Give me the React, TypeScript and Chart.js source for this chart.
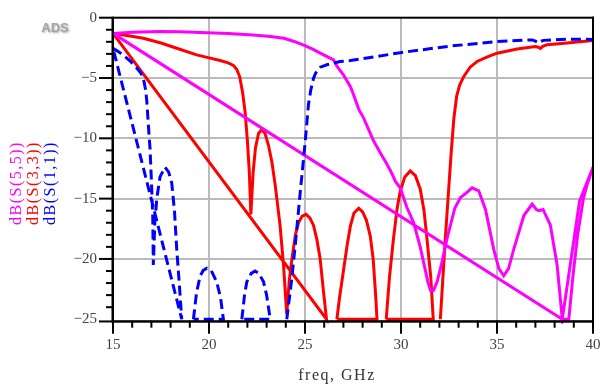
import React, { useEffect, useRef } from "react";
import { Chart, registerables } from "chart.js";
Chart.register(...registerables);

// dB(S(5,5)) trace (magenta) — null y = break
const s55X = [15, 16, 17.4, 18.5, 19.9, 21, 22.3, 23.2, 23.9, 24.4, 24.9, 25.4, 25.97, 26.49, 26.67, 27.0, 27.36, 27.53, 27.8, 28.05, 28.57, 28.92, 29.27, 29.55, 29.7, 29.96, 30.3, 30.66, 31.0, 31.18, 31.4, 31.53, 31.7, 31.88, 32.1, 32.4, 32.8, 33.1, 33.35, 33.7, 34.05, 34.4, 34.83, 35.1, 35.35, 35.6, 35.87, 36.4, 36.83, 37.05, 37.18, 37.4, 37.78, 38.13, 38.4, 39.3, 40, 39.7, 39.5, 39.2, 38.95, 38.74, 38.4, 15];
const s55Y = [-1.3, -1.2, -1.15, -1.17, -1.24, -1.3, -1.43, -1.55, -1.7, -1.95, -2.25, -2.6, -3.08, -3.5, -4.04, -4.73, -5.7, -6.38, -7.6, -8.3, -10.2, -11.2, -12.15, -13.0, -13.55, -14.1, -15.7, -17.0, -19.0, -20.3, -21.9, -22.6, -22.6, -21.9, -20.5, -18.3, -15.8, -14.9, -14.6, -14.1, -14.35, -15.9, -19.2, -20.8, -21.4, -20.8, -19.2, -16.4, -15.45, -15.9, -16.0, -15.9, -17.2, -20.5, -25, -15.2, -12.4, -13.8, -15.0, -18.0, -21.5, -25, -25, -1.3];

// dB(S(3,3)) trace (red)
const s33X = [15, 15.8, 16.58, 17.5, 18.32, 19.36, 20.06, 20.58, 21.0, 21.27, 21.45, 21.6, 21.75, 21.88, 22.0, 22.1, 22.18, 22.3, 22.42, 22.58, 22.75, 22.92, 23.1, 23.28, 23.45, 23.7, 23.88, 24.05, 24.18, 24.32, 24.5, 24.66, 24.85, 25.06, 25.25, 25.44, 25.62, 25.79, 25.95, 26.12, 15,
  26.66, 26.66, 26.8, 27.0, 27.2, 27.36, 27.55, 27.8, 28.0, 28.2, 28.4, 28.55, 28.68, 28.75, 26.66,
  29.23, 29.23, 29.4, 29.61, 29.8, 29.96, 30.2, 30.48, 30.75, 31.0, 31.2, 31.35, 31.55, 31.68, 29.23,
  32.05, 32.05, 32.3, 32.6, 32.75, 32.9, 33.05, 33.27, 33.6, 33.96, 34.5, 35.0, 36.05, 37.0, 37.15, 37.26, 37.4, 37.61, 38.65, 40, 32.05];
const s33Y = [-1.3, -1.5, -1.7, -2.1, -2.53, -3.08, -3.35, -3.55, -3.75, -3.95, -4.3, -4.9, -6.2, -7.8, -10.2, -12.8, -16.3, -12.8, -10.8, -9.6, -9.27, -9.6, -10.6, -12.0, -13.9, -17.2, -20.5, -24.6, -21.8, -20.0, -18.0, -17.0, -16.45, -16.3, -16.6, -17.2, -18.4, -20.0, -22.5, -25, -1.3,
  null, -25, -23.2, -21.0, -18.8, -17.3, -16.2, -15.8, -16.1, -16.8, -18.1, -20.0, -23.0, -25, -25,
  null, -25, -21.5, -18.3, -15.8, -14.4, -13.2, -12.7, -13.1, -14.2, -16.0, -18.3, -21.5, -25, -25,
  null, -25, -18.5, -11.5, -8.4, -6.5, -5.6, -4.87, -4.1, -3.63, -3.25, -2.94, -2.6, -2.39, -2.45, -2.55, -2.35, -2.25, -2.1, -1.9, -25];

// dB(S(1,1)) trace (blue, dashed)
const s11X = [15, 15.27, 15.54, 15.9, 16.24, 16.45, 16.58, 16.7, 16.76, 16.84, 16.93, 17.0, 17.07, 17.1, 17.18, 17.28, 17.45, 17.71, 17.9, 18.06, 18.2, 18.32, 18.45, 18.58, 15,
  19.19, 19.19, 19.35, 19.54, 19.7, 19.89, 20.1, 20.4, 20.6, 20.75, 19.19,
  21.71, 21.71, 21.85, 21.97, 22.2, 22.4, 22.6, 22.84, 23.0, 23.19, 21.71,
  24.05, 24.05, 24.3, 24.49, 24.75, 25.01, 25.18, 25.3, 25.45, 25.55, 25.8, 26.14, 26.83, 27.36, 28.22, 29.96, 31.7, 32.57, 35.0, 36.83, 37.0, 37.18, 37.3, 37.44, 38.65, 40, 24.05];
const s11Y = [-2.53, -2.8, -3.1, -3.6, -4.17, -4.6, -5.0, -6.0, -6.9, -8.85, -10.9, -13.5, -16.4, -20.5, -17.0, -15.0, -13.2, -12.4, -12.8, -13.7, -16.0, -19.2, -22.0, -25, -2.53,
  null, -25, -22.8, -21.4, -20.95, -20.76, -20.9, -21.9, -23.2, -25, -25,
  null, -25, -23.0, -21.9, -21.2, -21.0, -21.2, -21.9, -23.0, -25, -25,
  null, -25, -21.8, -18.9, -14.5, -10.3, -7.2, -6.0, -5.0, -4.6, -4.1, -3.9, -3.63, -3.55, -3.35, -2.9, -2.53, -2.35, -1.98, -1.84, -1.95, -2.1, -1.95, -1.88, -1.78, -1.8, -25];

const xTicks = [15, 20, 25, 30, 35, 40];
const yTicks = [0, -5, -10, -15, -20, -25];
const yTitles = ["dB(S(5,5))", "dB(S(3,3))", "dB(S(1,1))"];
const yTitleColors = ["#FF00FF", "#FF0000", "#0000FF"];
const xTitle = "freq, GHz";
const logoText = "ADS";

function pts(xs: number[], ys: (number | null)[]) {
  return xs.map((x, i) => ({ x, y: ys[i] }));
}

const decor = {
  id: "decor",
  afterDraw(chart: any) {
    const ctx: CanvasRenderingContext2D = chart.ctx;
    const a = chart.chartArea;
    const xs = chart.scales.x;
    const ys = chart.scales.y;
    ctx.save();
    ctx.setLineDash([]);
    ctx.globalAlpha = 1;
    ctx.fillStyle = "#000";
    const axisY = a.bottom + 0.75;
    // y ticks (outside, left)
    for (let v = 0; v >= -25; v--) {
      const y = v === -25 ? axisY : ys.getPixelForValue(v);
      const len = v % 5 === 0 ? 14 : 7;
      ctx.fillRect(a.left - len, y - 1, len, 2);
    }
    // x ticks (outside, below)
    for (let v = 15; v <= 40; v++) {
      const x = xs.getPixelForValue(v);
      const len = v % 5 === 0 ? 13 : 7;
      ctx.fillRect(x - 1, a.bottom, 2, len);
    }
    // frame
    ctx.fillRect(a.left, a.top - 1, a.right - a.left + 1, 2); // top
    ctx.fillRect(a.right - 1, a.top - 1, 2, a.bottom - a.top + 2); // right
    ctx.fillRect(a.left - 1.5, a.top - 1, 2.5, a.bottom - a.top + 3); // left
    ctx.fillRect(a.left - 1.5, a.bottom - 0.5, a.right - a.left + 2.5, 2.5); // bottom
    // y titles
    ctx.font = "16px 'Liberation Serif', serif";
    ctx.textAlign = "center";
    ctx.textBaseline = "middle";
    const tx = [17, 34, 51];
    yTitles.forEach((t, i) => {
      ctx.save();
      ctx.translate(tx[i], 183);
      ctx.rotate(-Math.PI / 2);
      ctx.fillStyle = yTitleColors[i];
      (ctx as any).letterSpacing = "1.5px";
      ctx.fillText(t, 0, 0);
      ctx.restore();
    });
    // x title
    ctx.fillStyle = "#333";
    (ctx as any).letterSpacing = "1.5px";
    ctx.fillText(xTitle, 337, 376);
    (ctx as any).letterSpacing = "0px";
    // logo
    ctx.font = "bold 13px 'Liberation Sans', sans-serif";
    ctx.fillStyle = "#A5A5A5";
    ctx.shadowColor = "rgba(0,0,0,0.35)";
    ctx.shadowBlur = 2;
    ctx.shadowOffsetX = 1;
    ctx.shadowOffsetY = 1;
    ctx.fillText(logoText, 55, 28);
    ctx.restore();
  },
};

export default function App() {
  const ref = useRef<HTMLCanvasElement | null>(null);
  useEffect(() => {
    if (!ref.current) return;
    const clip = { left: 3, top: 3, right: 3, bottom: 3 };
    const chart = new Chart(ref.current, {
      type: "line",
      data: {
        datasets: [
          { label: yTitles[2], data: pts(s11X, s11Y), borderColor: "#0000FF", borderWidth: 3, borderDash: [10, 5], pointRadius: 0, tension: 0, spanGaps: false, clip, order: 0 },
          { label: yTitles[0], data: pts(s55X, s55Y), borderColor: "#FF00FF", borderWidth: 3, pointRadius: 0, tension: 0, spanGaps: false, clip, order: 1 },
          { label: yTitles[1], data: pts(s33X, s33Y), borderColor: "#FF0000", borderWidth: 3, pointRadius: 0, tension: 0, spanGaps: false, clip, order: 2 },
        ] as any,
      },
      options: {
        animation: false,
        responsive: true,
        maintainAspectRatio: false,
        parsing: false as any,
        layout: { padding: { left: 0, right: 11, top: 17.7, bottom: 0 } },
        plugins: { legend: { display: false }, tooltip: { enabled: false } },
        scales: {
          x: {
            type: "linear",
            min: 15,
            max: 40,
            afterBuildTicks: (s: any) => { s.ticks = xTicks.map((v) => ({ value: v })); },
            afterFit: (s: any) => { s.height = 68.3; s.paddingLeft = 0; s.paddingRight = 0; },
            grid: { color: (c: any) => (c.tick && (c.tick.value === 15 || c.tick.value === 40) ? "rgba(0,0,0,0)" : "#BBBBBB"), lineWidth: 2, drawTicks: false },
            border: { display: false },
            ticks: { padding: 15, color: "#444", font: { family: "'Liberation Serif', serif", size: 15 }, callback: (v: any) => String(v), maxRotation: 0 },
          },
          y: {
            type: "linear",
            min: -25.12,
            max: 0,
            afterBuildTicks: (s: any) => { s.ticks = yTicks.map((v) => ({ value: v })); },
            afterFit: (s: any) => { s.width = 113; s.paddingTop = 0; s.paddingBottom = 0; },
            grid: { color: (c: any) => (c.tick && (c.tick.value === -25 || c.tick.value === 0) ? "rgba(0,0,0,0)" : "#BBBBBB"), lineWidth: 2, drawTicks: false },
            border: { display: false },
            ticks: { padding: 16, color: "#444", font: { family: "'Liberation Serif', serif", size: 15 }, callback: (v: any) => (v < 0 ? "\u2212" + Math.abs(v) : String(v)) },
          },
        },
      },
      plugins: [decor],
    });
    return () => chart.destroy();
  }, []);
  return (
    <div style={{ position: "absolute", left: 0, top: 0, width: 604, height: 389, background: "#fff" }}>
      <canvas ref={ref} />
    </div>
  );
}
